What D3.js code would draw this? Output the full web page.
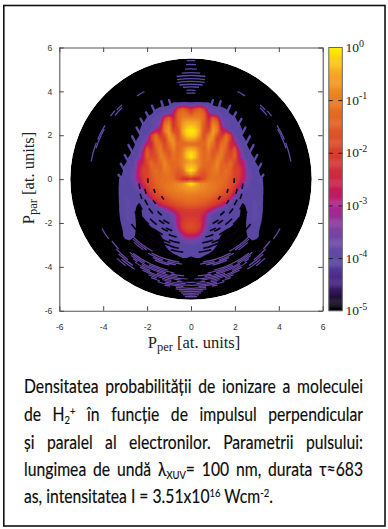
<!DOCTYPE html>
<html>
<head>
<meta charset="utf-8">
<script src="https://cdn.jsdelivr.net/npm/d3@7"></script>
<style>
    html, body { margin: 0; padding: 0; background: #fff; }
    svg { display: block; }
</style>
</head>
<body>
<div id="chart"></div>
<script>
// Data: density in tenths of a decade above 10^-5 (0 = 10^-5, 50 = 10^0).
// Only the P_per >= 0 half is listed, the map is mirrored around P_per = 0.
const perValues = [0, 0.2, 0.4, 0.6, 0.8, 1, 1.2, 1.4, 1.6, 1.8, 2, 2.2, 2.4, 2.6, 2.8, 3, 3.2, 3.4];
const parValues = [3.6, 3.4, 3.2, 3, 2.8, 2.6, 2.4, 2.2, 2, 1.8, 1.6, 1.4, 1.2, 1, 0.8, 0.6, 0.4, 0.2, 0,
    -0.2, -0.4, -0.6, -0.8, -1, -1.2, -1.4, -1.6, -1.8, -2, -2.2, -2.4, -2.6, -2.8, -3, -3.2, -3.4, -3.6, -3.8];
const densityRows = [
    [0, 0, 0, 0, 0, 0, 0, 0, 0, 0, 0, 0, 0, 0, 0, 0, 0, 0],
    [11, 12, 12, 11, 10, 4, 0, 0, 0, 0, 0, 0, 0, 0, 0, 0, 0, 0],
    [27, 33, 36, 30, 14, 11, 11, 10, 5, 0, 0, 0, 0, 0, 0, 0, 0, 0],
    [33, 38, 39, 36, 22, 12, 12, 11, 10, 4, 0, 0, 0, 0, 0, 0, 0, 0],
    [41, 41, 41, 37, 24, 35, 28, 12, 11, 11, 6, 0, 0, 0, 0, 0, 0, 0],
    [45, 45, 43, 36, 27, 40, 36, 16, 11, 11, 10, 3, 0, 0, 0, 0, 0, 0],
    [48, 47, 44, 35, 28, 43, 40, 20, 12, 11, 10, 8, 0, 0, 0, 0, 0, 0],
    [50, 49, 45, 33, 32, 44, 41, 24, 24, 12, 10, 10, 3, 0, 0, 0, 0, 0],
    [49, 48, 43, 33, 40, 44, 34, 28, 38, 30, 12, 10, 3, 0, 0, 0, 0, 0],
    [45, 44, 40, 34, 43, 42, 30, 34, 40, 30, 16, 11, 8, 0, 0, 0, 0, 0],
    [38, 38, 37, 37, 43, 39, 31, 39, 38, 26, 24, 12, 10, 3, 0, 0, 0, 0],
    [45, 44, 40, 36, 42, 36, 33, 41, 36, 27, 34, 16, 11, 6, 0, 0, 0, 0],
    [49, 47, 41, 37, 40, 34, 37, 41, 34, 30, 36, 22, 11, 10, 2, 0, 0, 0],
    [50, 47, 41, 37, 39, 35, 40, 40, 33, 32, 36, 22, 12, 10, 7, 0, 0, 0],
    [45, 43, 41, 38, 38, 37, 42, 38, 33, 37, 33, 24, 21, 11, 10, 2, 0, 0],
    [47, 46, 41, 37, 37, 39, 42, 36, 36, 38, 30, 28, 22, 11, 10, 7, 0, 0],
    [50, 47, 38, 35, 37, 40, 41, 36, 39, 36, 30, 30, 23, 12, 11, 10, 0, 0],
    [44, 40, 35, 33, 37, 39, 39, 37, 38, 35, 31, 29, 24, 13, 11, 10, 3, 0],
    [28, 25, 28, 33, 38, 39, 38, 38, 37, 34, 31, 28, 22, 14, 11, 10, 8, 0],
    [50, 47, 43, 42, 41, 40, 39, 38, 36, 33, 31, 26, 18, 12, 10, 10, 9, 0],
    [45, 44, 43, 42, 41, 40, 39, 37, 35, 32, 28, 20, 13, 11, 10, 10, 10, 0],
    [42, 42, 41, 41, 40, 39, 37, 35, 33, 30, 24, 13, 11, 10, 10, 10, 10, 0],
    [40, 40, 39, 39, 38, 36, 34, 32, 30, 26, 15, 11, 10, 11, 10, 11, 9, 0],
    [38, 38, 37, 36, 35, 33, 31, 29, 26, 15, 10, 9, 8, 10, 11, 11, 9, 0],
    [35, 35, 34, 33, 31, 29, 26, 22, 13, 10, 10, 9, 3, 9, 11, 11, 8, 0],
    [30, 30, 29, 28, 25, 20, 14, 11, 10, 10, 9, 7, 0, 8, 11, 11, 8, 0],
    [28, 28, 28, 24, 15, 11, 10, 10, 10, 9, 8, 6, 0, 7, 11, 11, 7, 0],
    [30, 30, 28, 22, 13, 10, 10, 10, 9, 8, 7, 5, 0, 8, 11, 11, 6, 0],
    [32, 31, 29, 22, 12, 10, 10, 9, 8, 7, 5, 4, 0, 9, 11, 10, 5, 0],
    [33, 32, 29, 20, 11, 10, 9, 8, 6, 5, 3, 2, 0, 9, 11, 10, 3, 0],
    [30, 29, 25, 15, 10, 10, 9, 7, 4, 2, 1, 0, 0, 8, 11, 10, 0, 0],
    [23, 22, 18, 11, 10, 9, 8, 4, 2, 0, 0, 0, 0, 6, 10, 9, 0, 0],
    [15, 14, 12, 10, 10, 9, 6, 2, 0, 0, 0, 0, 0, 2, 5, 3, 0, 0],
    [11, 11, 10, 10, 9, 8, 5, 2, 0, 0, 0, 0, 0, 0, 0, 0, 0, 0],
    [10, 10, 10, 9, 8, 6, 2, 0, 0, 0, 0, 0, 0, 0, 0, 0, 0, 0],
    [9, 9, 8, 7, 5, 2, 0, 0, 0, 0, 0, 0, 0, 0, 0, 0, 0, 0],
    [3, 5, 5, 3, 1, 0, 0, 0, 0, 0, 0, 0, 0, 0, 0, 0, 0, 0],
    [0, 0, 0, 0, 0, 0, 0, 0, 0, 0, 0, 0, 0, 0, 0, 0, 0, 0],
];

// Fringes: momentum radius, angle span in degrees from the P_par axis, mirrored left and right
const darkRadius = [1.97, 2.37, 2.41, 1.97, 2.3, 2.12, 2.34, 2.37, 2.6, 2.82, 2.6, 2.84, 3.14, 3.05, 3.3, 3.45, 3.2, 3.55, 1.75, 1.55, 2.62, 2.15, 2.95, 3.4, 2.5, 2.72, 2.95, 3.18, 2.25, 3.35];
const darkFrom = [85, 79, 68, 55, 59, 39, 48, 31, 37, 43, 24, 27, 31, 18, 22, 30, 10, 12, 69, 53, 58, 72, 54, 46, 20, 14, 10, 16, 26, 6];
const darkTo = [91, 85, 74, 61, 66, 46, 55, 38, 46, 52, 31, 36, 42, 27, 35, 44, 17, 27, 75, 60, 65, 78, 60, 53, 27, 22, 20, 28, 34, 16];

const lowerRadius = [3.82, 3.9, 3.97, 4.04, 3.72, 3.8, 3.88, 4.28, 4.35, 4.42, 4.49, 4.56, 4.63, 4.7, 4.77, 4.84, 4.91, 4.98, 5.05, 5.12, 5.2, 5.28, 5.36, 4.58, 4.64, 4.66, 4.74, 4.84, 4.94];
const lowerFrom = [8, 6, 10, 14, 28, 32, 34, 14, 10, 4, 8, 2, 6, 0, 3, 0, 4, 0, 0, 0, 0, 0, 0, 46, 54, 38, 34, 32, 37];
const lowerTo = [28, 30, 26, 24, 46, 44, 42, 38, 40, 38, 36, 34, 30, 28, 24, 22, 18, 14, 8, 6, 5, 4, 3, 52, 61, 47, 44, 41, 43];

// Dark gaps that break up the lower purple bands
const gapRadius = [4.42, 4.56, 4.7, 4.84, 4.35, 4.63, 4.98, 3.9, 4.49, 4.77];
const gapFrom = [12, 20, 8, 14, 26, 2, 8, 16, 30, 16];
const gapTo = [15, 24, 11, 17, 29, 5, 11, 19, 33, 19];

const upperRadius = [5.4, 5.22, 5.02, 4.85, 4.72, 4.58, 4.45, 4.32, 4.2, 4.05, 3.92, 4.62, 4.62, 4.56, 4.55, 4.62, 4.66, 4.52, 4.52];
const upperFrom = [0, 0, 0, 0, 0, 0, 0, 0, 0, 0, 0, 58, 69, 60, 64, 43, 48, 44, 28];
const upperTo = [2, 2.5, 3, 5, 8, 8, 8, 7, 5, 3, 3, 67, 80, 64, 72, 47, 52, 50, 33];

// Streaks sticking out of the purple edge of the fan
const streakStartPer = [0.9, 1.25, 1.6, 1.85, 2.05, 2.25, 2.45, 2.6, 2.8, 2.95, 3.05];
const streakStartPar = [3.3, 3.2, 2.95, 2.65, 2.3, 1.95, 1.5, 1.1, 0.7, 0.25, -0.15];
const streakEndPer = [1, 1.35, 1.78, 2.05, 2.3, 2.48, 2.68, 2.85, 3.02, 3.2, 3.3];
const streakEndPar = [3.6, 3.55, 3.35, 3.05, 2.75, 2.35, 1.95, 1.55, 1.1, 0.7, 0.2];

const axisTicks = [-6, -4, -2, 0, 2, 4, 6];
const colorbarTicks = [1, 1e-1, 1e-2, 1e-3, 1e-4, 1e-5];
const colorbarExponents = ['0', '-1', '-2', '-3', '-4', '-5'];
const paletteLogs = [-5, -4.5, -4, -3.5, -3, -2.7, -2, -1, -0.5, 0];
const paletteColors = ['#000000', '#44207c', '#5c4aa8', '#7a44a4', '#b0208c', '#c41c50', '#d8402a', '#e87a22', '#f5a823', '#fff200'];

const captionLines = [
    [['Densitatea probabilității de ionizare a moleculei']],
    [['de H'], ['2', 'sub'], ['+', 'sup'], [' în funcție de impulsul perpendicular']],
    [['și paralel al electronilor. Parametrii pulsului:']],
    [['lungimea de undă λ'], ['XUV', 'sub'], ['= 100 nm, durata τ≈683']],
    [['as, intensitatea I = 3.51x10'], ['16', 'sup'], [' Wcm'], ['-2', 'sup'], ['.']],
];

// Dimensions
const dimensions = { width: 388, height: 529, left: 59.3, right: 322.7, top: 47.5, bottom: 310.7 };

const svg = d3.select('#chart')
    .append('svg')
    .attr('width', dimensions.width)
    .attr('height', dimensions.height);

svg.append('rect')
    .attr('x', 3.8).attr('y', 5.5)
    .attr('width', 381.2).attr('height', 520.5)
    .attr('fill', 'none')
    .attr('stroke', '#111')
    .attr('stroke-width', 1.6);

// Scales
const xScale = d3.scaleLinear().domain([-6, 6]).range([dimensions.left, dimensions.right]);
const yScale = d3.scaleLinear().domain([-6, 6]).range([dimensions.bottom, dimensions.top]);
const barScale = d3.scaleLog().domain([1e-5, 1]).range([dimensions.bottom, dimensions.top]);
const logColor = d3.scaleLinear().domain(paletteLogs).range(paletteColors);
const levelColor = level => logColor(level / 10 - 5);
const unit = xScale(1) - xScale(0);

const defs = svg.append('defs');
defs.append('filter').attr('id', 'soft')
    .append('feGaussianBlur').attr('stdDeviation', 0.55);
defs.append('clipPath').attr('id', 'disc')
    .append('circle')
    .attr('cx', xScale(0)).attr('cy', yScale(0)).attr('r', unit * 5.5);

const map = svg.append('g').attr('clip-path', 'url(#disc)').append('g').attr('filter', 'url(#soft)');

map.append('circle')
    .attr('cx', xScale(0)).attr('cy', yScale(0)).attr('r', unit * 5.5)
    .attr('fill', '#000');

// Density map as filled contours on the mirrored grid
const perFull = [...perValues.slice(1).reverse().map(d => -d), ...perValues];
const gridValues = densityRows.flatMap(row => [...row.slice(1).reverse(), ...row]);
const columns = perFull.length;
const rows = parValues.length;

const cellToPer = d3.scaleLinear().domain([0.5, columns - 0.5]).range([perFull[0], perFull[columns - 1]]);
const cellToPar = d3.scaleLinear().domain([0.5, rows - 0.5]).range([parValues[0], parValues[rows - 1]]);
const contourPath = d3.geoPath(d3.geoTransform({
    point(cx, cy) {
        this.stream.point(xScale(cellToPer(cx)), yScale(cellToPar(cy)));
    },
}));

// Edge of the purple area is sharp in the print, so nothing is drawn between 1 and 5
const contours = d3.contours()
    .size([columns, rows])
    .thresholds([5, ...d3.range(11, 51)])(gridValues);

map.append('g')
    .selectAll('path')
    .data(contours)
    .join('path')
    .attr('d', contourPath)
    .attr('fill', d => levelColor(d.value === 5 ? 9.5 : d.value));

// Streaks on the edge of the fan, both sides
[-1, 1].forEach(side => {
    map.append('g')
        .selectAll('line')
        .data(streakStartPer)
        .join('line')
        .attr('x1', (d, i) => xScale(side * d))
        .attr('y1', (d, i) => yScale(streakStartPar[i]))
        .attr('x2', (d, i) => xScale(side * streakEndPer[i]))
        .attr('y2', (d, i) => yScale(streakEndPar[i]))
        .attr('stroke', levelColor(10))
        .attr('stroke-width', 2.4)
        .attr('stroke-linecap', 'round');
});

// Fringes as thin arcs around the origin. Angles are counted from the top.
function drawFringes(radius, from, to, thickness, color, fromBottom) {
    const arc = d3.arc();
    const rad = d => d * Math.PI / 180;
    [-1, 1].forEach(side => {
        map.append('g')
            .attr('transform', `translate(${xScale(0)}, ${yScale(0)})`)
            .selectAll('path')
            .data(radius)
            .join('path')
            .attr('d', (d, i) => {
                const a0 = fromBottom ? 180 - from[i] : from[i];
                const a1 = fromBottom ? 180 - to[i] : to[i];
                return arc({
                    innerRadius: (d - thickness / 2) * unit,
                    outerRadius: (d + thickness / 2) * unit,
                    startAngle: side * rad(a0),
                    endAngle: side * rad(a1),
                });
            })
            .attr('fill', color);
    });
}

drawFringes(darkRadius, darkFrom, darkTo, 0.075, '#0a0410', true);
drawFringes(lowerRadius, lowerFrom, lowerTo, 0.058, levelColor(12), true);
drawFringes(gapRadius, gapFrom, gapTo, 0.1, '#000', true);
drawFringes(upperRadius, upperFrom, upperTo, 0.06, levelColor(10), false);

// Axes
const noLabel = () => '';
const styleAxis = group => {
    group.selectAll('.domain').attr('stroke', '#555').attr('stroke-width', 1.1);
    group.selectAll('.tick line').attr('stroke', '#444').attr('stroke-width', 1);
    group.selectAll('text')
        .attr('fill', '#333')
        .style('font-family', '"Liberation Sans", Arial, sans-serif')
        .style('font-size', '8.6px');
};

svg.append('g')
    .attr('transform', `translate(0, ${dimensions.bottom})`)
    .call(d3.axisBottom(xScale).tickValues(axisTicks).tickSize(-4.5).tickSizeOuter(0).tickPadding(13).tickFormat(d => `${d}`))
    .call(styleAxis);
svg.append('g')
    .attr('transform', `translate(0, ${dimensions.top})`)
    .call(d3.axisTop(xScale).tickValues(axisTicks).tickSize(-4.5).tickSizeOuter(0).tickFormat(noLabel))
    .call(styleAxis);
svg.append('g')
    .attr('transform', `translate(${dimensions.left}, 0)`)
    .call(d3.axisLeft(yScale).tickValues(axisTicks).tickSize(-4.5).tickSizeOuter(0).tickPadding(7).tickFormat(d => `${d}`))
    .call(styleAxis);
svg.append('g')
    .attr('transform', `translate(${dimensions.right}, 0)`)
    .call(d3.axisRight(yScale).tickValues(axisTicks).tickSize(-4.5).tickSizeOuter(0).tickFormat(noLabel))
    .call(styleAxis);

// Axis titles
const serif = '"Liberation Serif", "Times New Roman", serif';
function axisTitle(x, y, rotate, sub) {
    const t = svg.append('text')
        .attr('transform', `translate(${x}, ${y}) rotate(${rotate})`)
        .attr('text-anchor', 'middle')
        .attr('fill', '#222')
        .style('font-family', serif)
        .style('font-size', '16.5px');
    t.append('tspan').text('P');
    t.append('tspan').attr('dy', 3).style('font-size', '12.5px').text(sub);
    t.append('tspan').attr('dy', -3).text(' [at. units]');
}
axisTitle(194, 348, 0, 'per');
axisTitle(34, 178, -90, 'par');

// Colorbar
const barLeft = 328.8;
const barRight = 342.3;
const barSteps = d3.range(-5, 0, 0.02);

svg.append('g')
    .selectAll('rect')
    .data(barSteps)
    .join('rect')
    .attr('x', barLeft)
    .attr('width', barRight - barLeft)
    .attr('y', d => barScale(10 ** (d + 0.02)))
    .attr('height', d => barScale(10 ** d) - barScale(10 ** (d + 0.02)) + 0.4)
    .attr('fill', d => logColor(d));

svg.append('rect')
    .attr('x', barLeft).attr('y', dimensions.top)
    .attr('width', barRight - barLeft).attr('height', dimensions.bottom - dimensions.top)
    .attr('fill', 'none')
    .attr('stroke', '#666')
    .attr('stroke-width', 1);

svg.append('g')
    .attr('transform', `translate(${barLeft}, 0)`)
    .call(d3.axisLeft(barScale).tickValues(colorbarTicks.slice(1, 5)).tickSize(-4).tickSizeOuter(0).tickFormat(noLabel))
    .call(g => g.select('.domain').remove())
    .call(g => g.selectAll('.tick line').attr('stroke', '#222'));
svg.append('g')
    .attr('transform', `translate(${barRight}, 0)`)
    .call(d3.axisRight(barScale).tickValues(colorbarTicks.slice(1, 5)).tickSize(-4).tickSizeOuter(0).tickFormat(noLabel))
    .call(g => g.select('.domain').remove())
    .call(g => g.selectAll('.tick line').attr('stroke', '#222'));

const barLabels = svg.append('g')
    .selectAll('text')
    .data(colorbarTicks)
    .join('text')
    .attr('x', 345.5)
    .attr('y', d => barScale(d) + 4.5)
    .attr('fill', '#222')
    .style('font-family', serif)
    .style('font-size', '13.5px');
barLabels.append('tspan').text('10');
barLabels.append('tspan')
    .attr('dy', -5.5)
    .style('font-size', '10px')
    .text((d, i) => colorbarExponents[i]);

// Caption, justified between the same two edges as in the print.
// No narrow face is installed, so Lato is squeezed sideways.
const captionLeft = 24;
const captionRight = 363;
const captionBaselines = [392.5, 420.5, 448.5, 476, 503];
const captionFontSize = 18.5;
const captionSqueeze = 0.85;

captionLines.forEach((segments, lineIndex) => {
    const line = svg.append('text')
        .attr('transform', `translate(${captionLeft}, ${captionBaselines[lineIndex]}) scale(${captionSqueeze}, 1)`)
        .attr('fill', '#0a0a0a')
        .attr('stroke', '#0a0a0a')
        .attr('stroke-width', 0.15)
        .style('font-family', 'Lato, "Noto Sans", sans-serif')
        .style('font-size', `${captionFontSize}px`);

    let shift = 0;
    segments.forEach(([label, kind]) => {
        const target = kind === 'sub' ? 3 : kind === 'sup' ? -6 : 0;
        line.append('tspan')
            .attr('dy', target - shift)
            .style('font-size', kind ? `${captionFontSize * 0.6}px` : null)
            .text(label);
        shift = target;
    });

    if (lineIndex < captionLines.length - 1) {
        const natural = line.node().getComputedTextLength();
        const spaces = segments.map(s => s[0]).join('').split(' ').length - 1;
        line.attr('word-spacing', ((captionRight - captionLeft) / captionSqueeze - natural) / spaces);
    }
});
</script>
</body>
</html>
